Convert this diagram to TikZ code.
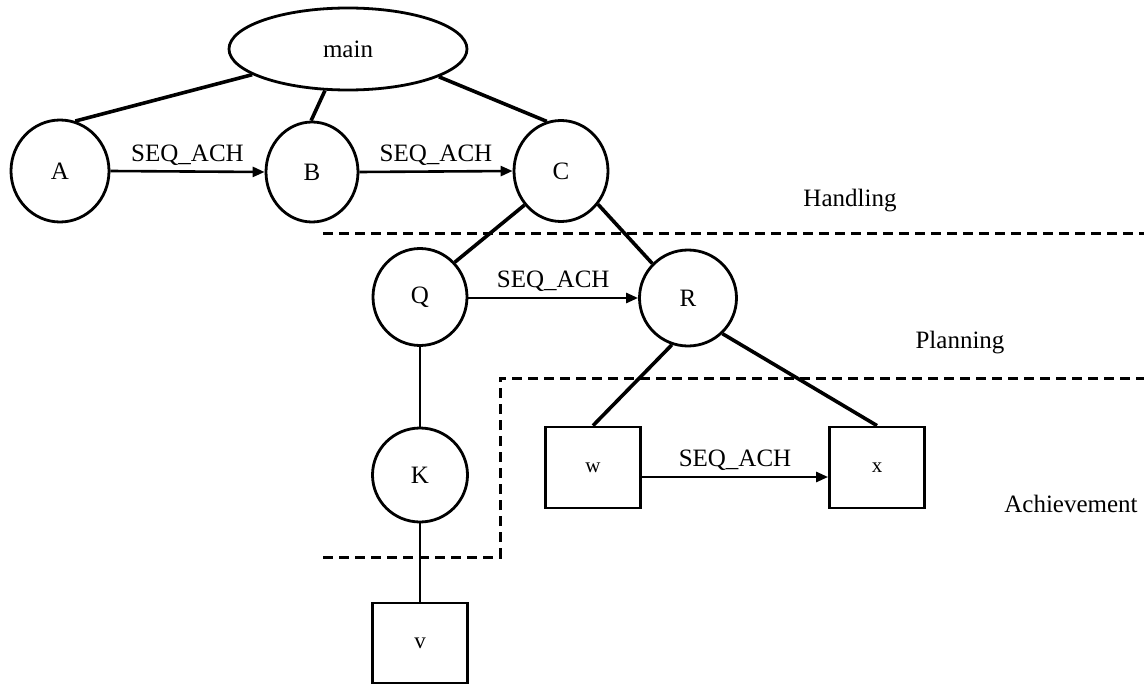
\documentclass[tikz,border=0pt]{standalone}
\usepackage{fontspec}
\setmainfont{Liberation Serif}
\usetikzlibrary{shapes.geometric,arrows.meta}
\begin{document}
\begin{tikzpicture}[x=1pt,y=-1pt,
  every node/.style={font=\fontsize{25}{30}\selectfont},
  state/.style={draw,ellipse,line width=2.8pt,inner sep=0pt},
  leaf/.style={draw,rectangle,line width=2.8pt,inner sep=0pt,
    minimum width=95pt,minimum height=81pt,font=\fontsize{21}{25}\selectfont},
  tree/.style={line width=3.6pt},
  link/.style={line width=2.5pt},
  seq/.style={line width=2.6pt,-{Triangle[length=12pt,width=10pt]}},
  seqlabel/.style={midway,above=4pt,inner sep=1pt},
  layer/.style={line width=3pt,dash pattern=on 10pt off 6pt},
  levelname/.style={inner sep=0pt}]
\useasboundingbox (0,0) rectangle (1144,685);

% goal tree
\node[state,minimum width=238pt,minimum height=82pt] (main) at (348,49) {main};
\node[state,minimum width=98pt,minimum height=102pt] (A) at (60,171) {A};
\node[state,minimum width=92pt,minimum height=100pt] (B) at (312,172) {B};
\node[state,minimum width=94pt,minimum height=101pt] (C) at (561,171) {C};
\node[state,minimum width=94pt,minimum height=97pt] (Q) at (420,297) {Q};
\node[state,minimum width=97pt,minimum height=96pt] (R) at (688,298) {R};
\node[state,minimum width=95pt,minimum height=94pt] (K) at (420,475) {K};
\node[leaf] (w) at (593,467.5) {w};
\node[leaf] (x) at (877,467.5) {x};
\node[leaf,minimum height=80pt,font=\fontsize{23}{27}\selectfont] (v) at (420,643) {v};

% decomposition links
\draw[tree] (main.195) -- (A.73);
\draw[tree] (main.241) -- (B.91);
\draw[tree] (main.343) -- (C.106);
\draw[tree] (C.223) -- (Q.45);
\draw[tree] (C.318) -- (R.136);
\draw[tree] (R.251) -- (w.north);
\draw[tree] (R.314) -- (x.north);
\draw[link] (Q) -- (K);
\draw[link] (K) -- (v);

% sequencing arrows
\draw[seq] (A.east) -- node[seqlabel] {SEQ\_ACH} (B.west);
\draw[seq] (B.east) -- node[seqlabel] {SEQ\_ACH} (C.west);
\draw[seq] ([yshift=-1pt]Q.east) -- node[seqlabel] {SEQ\_ACH} ([yshift=-1pt]Q.east -| R.west);
\draw[seq] ([yshift=-9.5pt]w.east) -- node[seqlabel] {SEQ\_ACH} ([yshift=-9.5pt]x.west);

% level boundaries
\coordinate (h1) at (323,233);
\coordinate (h2) at (1144,233);
\coordinate (a1) at (323,557);
\coordinate (a2) at (500,557);
\coordinate (a3) at (500,378);
\coordinate (a4) at (1144,378);
\draw[layer] (h1) -- (h2);
\draw[layer] (a1) -- (a2) -- (a3) -- (a4);

% level names
\node[levelname] (handling) at (850,201) {Handling};
\node[levelname] (planning) at (960,343) {Planning};
\node[levelname] (achievement) at (1071,504) {Achievement};
\end{tikzpicture}
\end{document}
